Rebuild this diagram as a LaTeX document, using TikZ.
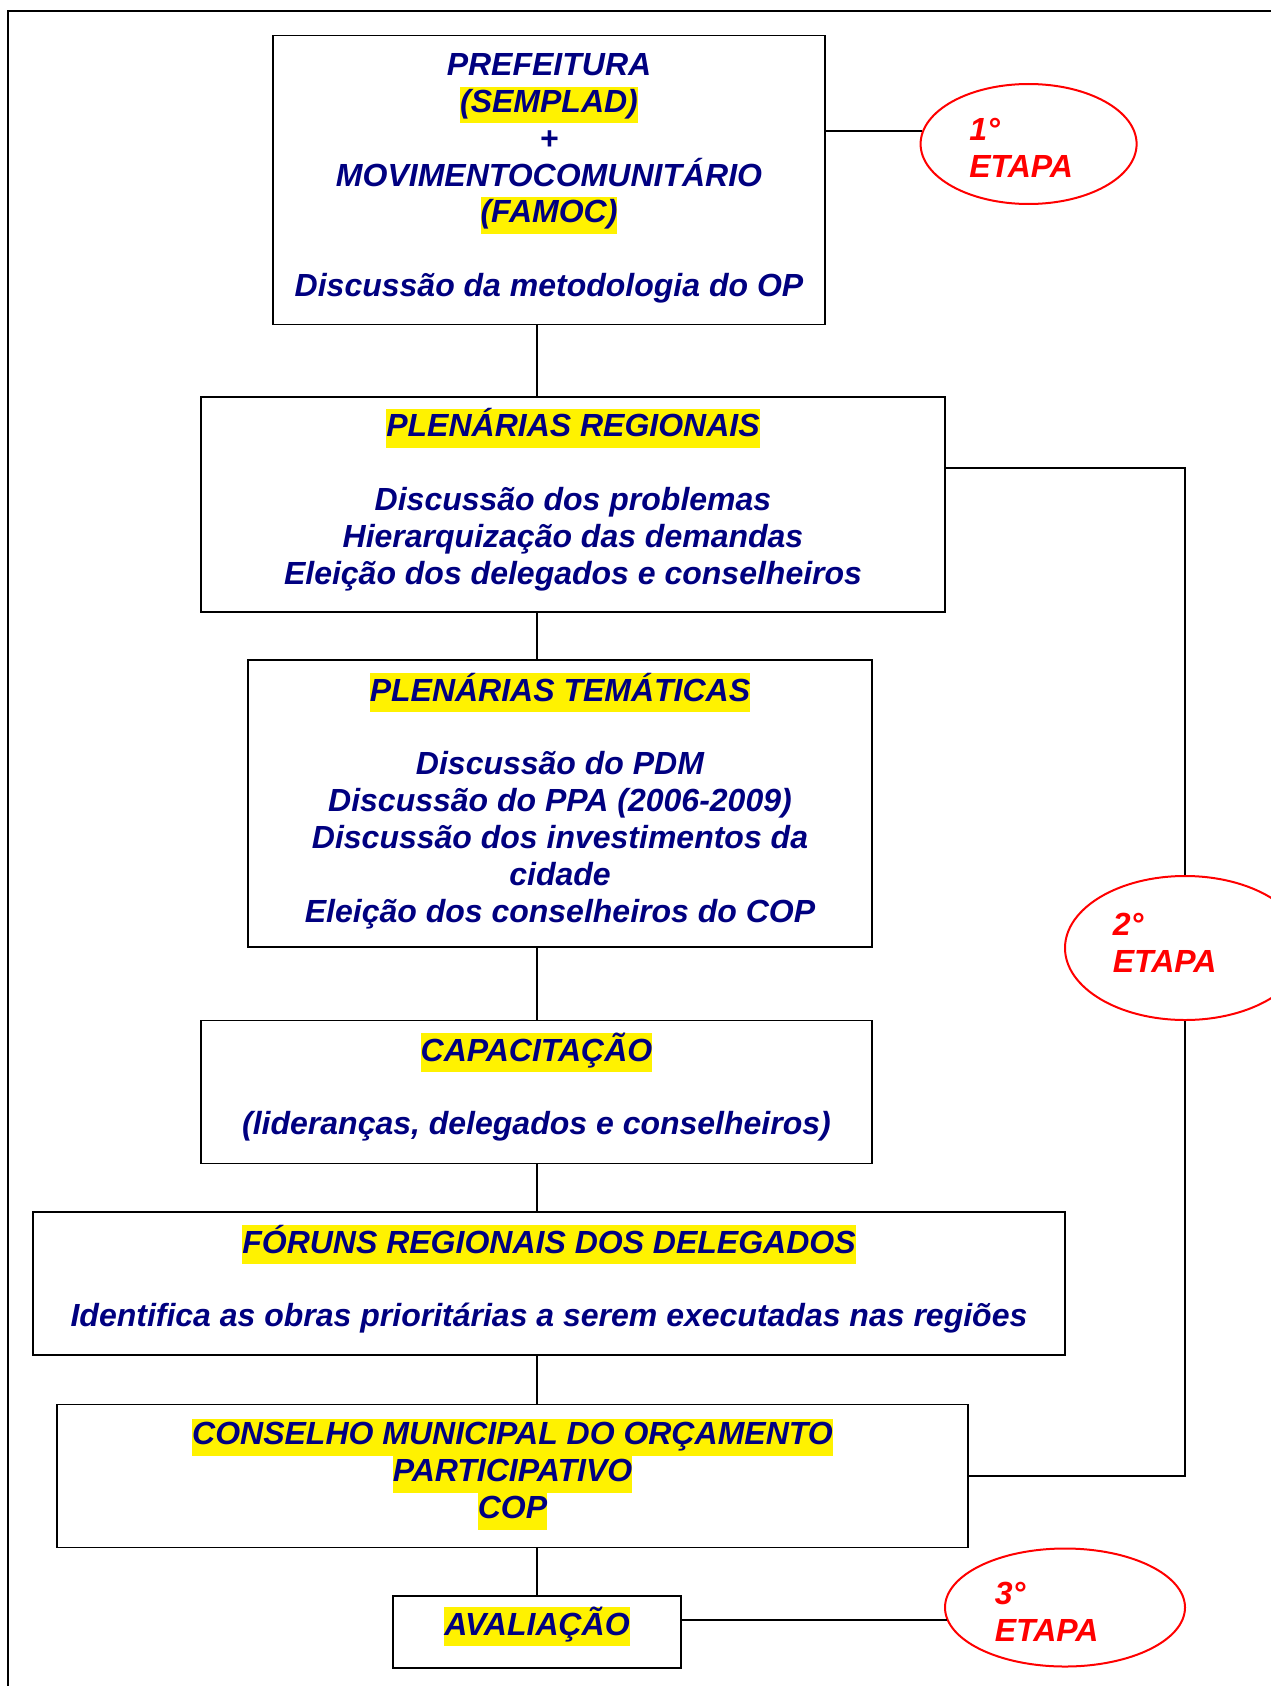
\documentclass[tikz,border=0pt]{standalone}
\usepackage{fontspec}
\setmainfont{Liberation Sans}
\usepackage{xcolor}
\usepackage{tikz}
\usetikzlibrary{shapes.geometric}
\definecolor{azul}{RGB}{0,0,128}
\definecolor{vermelho}{RGB}{255,0,0}
\newcommand{\marca}[1]{{\setlength{\fboxsep}{0pt}\colorbox{yellow}{\strut #1}}}
\tikzstyle{caixa}=[rectangle,draw=black,line width=0.7pt,text=azul,align=center,inner sep=0pt,font=\fontsize{16}{18.4}\selectfont\bfseries\itshape]
\tikzstyle{etapa}=[ellipse,draw=vermelho,line width=1pt,text=vermelho,align=left,inner sep=0pt,font=\fontsize{16}{18.4}\selectfont\bfseries\itshape]
\tikzstyle{liga}=[line width=0.6pt]

\begin{document}
\begin{tikzpicture}[x=0.5pt,y=-0.5pt]
        \useasboundingbox (0,0) rectangle (1270,1686);
        \draw [line width=1pt] (8,11) rectangle (1300,1720);

        \node at (549,180) [caixa,minimum width=276pt,minimum height=144.25pt,text depth=5pt] (pref) {PREFEITURA\\ \marca{(SEMPLAD)}\\ +\\ MOVIMENTOCOMUNITÁRIO\\ \marca{(FAMOC)}\\[18.4pt] Discussão da metodologia do OP};
        \node at (573,504.5) [caixa,minimum width=372pt,minimum height=107.5pt,text depth=8.2pt] (regio) {\marca{PLENÁRIAS REGIONAIS}\\[18.4pt] Discussão dos problemas\\ Hierarquização das demandas\\ Eleição dos delegados e conselheiros};
        \node at (560,803.5) [caixa,minimum width=312pt,minimum height=143.5pt,text depth=6pt] (temat) {\marca{PLENÁRIAS TEMÁTICAS}\\[18.4pt] Discussão do PDM\\ Discussão do PPA (2006-2009)\\ Discussão dos investimentos da\\ cidade\\ Eleição dos conselheiros do COP};
        \node at (536.5,1092) [caixa,minimum width=335.5pt,minimum height=71.5pt,text depth=8.2pt] (capac) {\marca{CAPACITAÇÃO}\\[18.4pt] (lideranças, delegados e conselheiros)};
        \node at (549,1283.5) [caixa,minimum width=516pt,minimum height=71.5pt,text depth=7.7pt] (forum) {\marca{FÓRUNS REGIONAIS DOS DELEGADOS}\\[18.4pt] Identifica as obras prioritárias a serem executadas nas regiões};
        \node at (512.5,1476) [caixa,minimum width=455.5pt,minimum height=71.5pt,text depth=7.1pt] (cop) {\marca{CONSELHO MUNICIPAL DO ORÇAMENTO}\\ \marca{PARTICIPATIVO}\\ \marca{COP}};
        \node at (537,1632) [caixa,minimum width=144pt,minimum height=36pt,text depth=10.9pt] (aval) {\marca{AVALIAÇÃO}};

        \node at (1028.6,144) [etapa,minimum width=108pt,minimum height=60pt,text height=33pt] (et1) {1°\\ ETAPA\hspace{7.5pt}\null};
        \node at (1185,948) [etapa,minimum width=120pt,minimum height=72pt,text depth=5.4pt] (et2) {2°\\ ETAPA\hspace{20.4pt}\null};
        \node at (1065,1607.5) [etapa,minimum width=120pt,minimum height=59pt,text height=33.5pt] (et3) {3°\\ ETAPA\hspace{18.3pt}\null};
        \coordinate (volta) at (1185,468);

        \draw [liga] (pref.south -| aval.north) -- (regio.north -| aval.north);
        \draw [liga] (regio.south -| aval.north) -- (temat.north -| aval.north);
        \draw [liga] (temat.south -| aval.north) -- (capac.north -| aval.north);
        \draw [liga] (capac.south -| aval.north) -- (forum.north -| aval.north);
        \draw [liga] (forum.south -| aval.north) -- (cop.north -| aval.north);
        \draw [liga] (cop.south -| aval.north) -- (aval.north);

        \draw [liga,line width=0.9pt] (pref.east |- et1.173) -- (et1.173);
        \draw [liga] (regio.east |- volta) -- (volta) -- (et2.north);
        \draw [liga] (et2.south) |- (cop.east);
        \draw [liga,line width=0.9pt] (aval.east |- et3.186) -- (et3.186);
      \end{tikzpicture}
\end{document}
